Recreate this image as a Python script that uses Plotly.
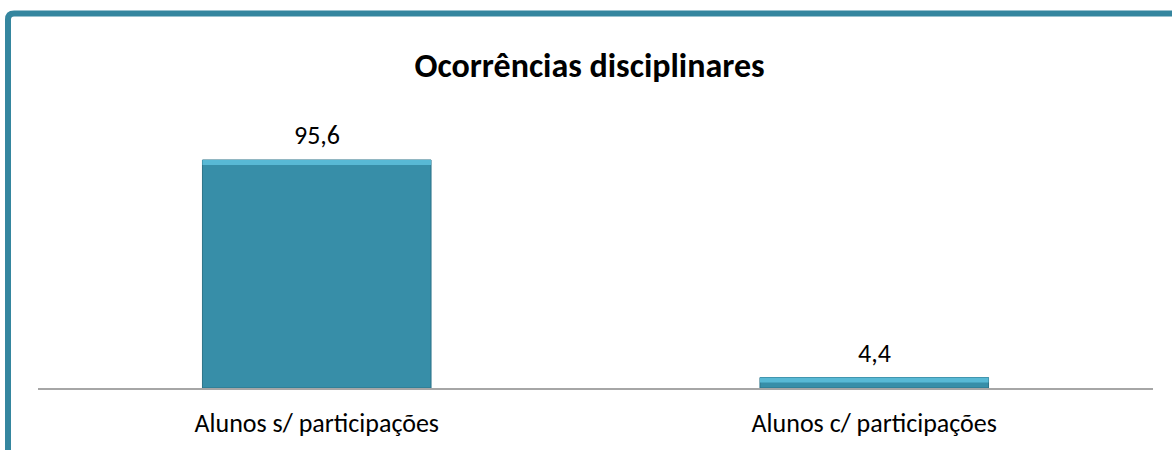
import plotly.graph_objects as go

categories = ["Alunos s/ participações", "Alunos c/ participações"]
values = [95.6, 4.4]
title_text = "Ocorrências disciplinares"

W, H = 1172, 450
ML, MR, MT, MB = 38, W - 1153, 110, H - 388
PW, PH = W - ML - MR, H - MT - MB
PX_PER_UNIT = 2.385
ymax = (388 - MT) / PX_PER_UNIT
FONT = "Carlito, Calibri, Lato"
BEVEL = 5 / PX_PER_UNIT  # bevel highlight thickness (style)

def px(x):
    return (x - ML) / PW

def py(y):
    return (H - MB - y) / PH

fig = go.Figure()
fig.add_trace(go.Bar(
    x=categories, y=values,
    marker=dict(color="#378EA8", line=dict(color="#2C7388", width=1)),
    hoverinfo="skip",
))
# bevel highlight on top of each bar
fig.add_trace(go.Bar(
    x=categories, y=[BEVEL] * len(values), base=[v - BEVEL for v in values],
    marker=dict(color="#58B9D5", line=dict(width=0)),
    hoverinfo="skip",
))

for c, v in zip(categories, values):
    fig.add_annotation(x=c, y=v, text=f"{v:.1f}".replace(".", ","),
                       showarrow=False, yanchor="bottom", yshift=7,
                       font=dict(family=FONT, size=26, color="#000"))

# border (rounded frame, top & left visible)
r = 6
x0, y0 = 8, 13.5
path = (f"M {px(x0)},{py(H+10)} L {px(x0)},{py(y0 + r)} "
        f"Q {px(x0)},{py(y0)} {px(x0 + r)},{py(y0)} L {px(W + 10)},{py(y0)}")
fig.add_shape(type="path", path=path, xref="paper", yref="paper",
              line=dict(color="#35869F", width=6))

fig.update_layout(
    width=W, height=H,
    margin=dict(l=ML, r=MR, t=MT, b=MB),
    paper_bgcolor="white", plot_bgcolor="white",
    barmode="overlay",
    bargap=0.59,
    showlegend=False,
    title=dict(text="<b>" + title_text + "</b>", x=0.503, xanchor="center",
               y=1 - 65 / H, yanchor="middle",
               font=dict(family=FONT, size=34, color="#000")),
    xaxis=dict(showline=True, linecolor="#A6A6A6", linewidth=1.5,
               showgrid=False, ticks="", ticklabelstandoff=11,
               tickfont=dict(family=FONT, size=26, color="#000")),
    yaxis=dict(visible=False, range=[0, ymax]),
)

fig.write_html("out.html", config={"displayModeBar": False},
               post_script="document.body.style.margin='0';")
